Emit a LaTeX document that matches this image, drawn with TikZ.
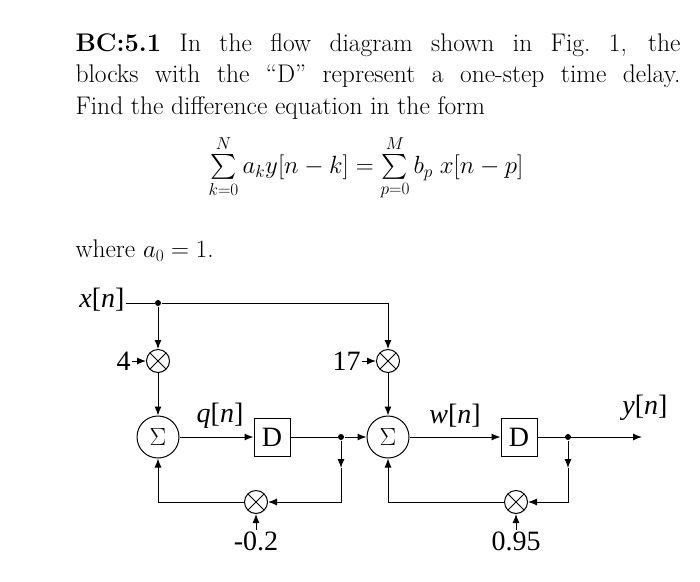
\documentclass[tikz,border=0pt]{standalone}
\usepackage{amsmath}
\usepackage{fontspec}
\usepackage{tikz}
\usetikzlibrary{positioning, calc, arrows.meta}
\newfontfamily\diafont{Liberation Serif}
\newcommand{\sig}[1]{\textit{#1}[\textit{n}]}

\begin{document}
\begin{tikzpicture}[x=1pt, y=-1pt, >={Latex[length=9pt,width=7pt]}, line width=1pt,
	sumnode/.style={circle, draw, minimum size=42pt, inner sep=0pt, font=\fontsize{30}{30}\selectfont},
	mulnode/.style={circle, draw, minimum size=23pt, inner sep=0pt, path picture={
		\draw ($(path picture bounding box.north west)!0.15!(path picture bounding box.south east)$) -- ($(path picture bounding box.south east)!0.15!(path picture bounding box.north west)$);
		\draw ($(path picture bounding box.north east)!0.15!(path picture bounding box.south west)$) -- ($(path picture bounding box.south west)!0.15!(path picture bounding box.north east)$);}},
	delaybox/.style={draw, minimum width=36pt, minimum height=38pt, inner sep=0pt, font=\diafont\fontsize{28}{28}\selectfont},
	lbl/.style={font=\diafont\fontsize{28}{28}\selectfont, inner sep=1pt},
	txt/.style={anchor=west, font=\fontsize{25.5}{33}\selectfont, inner sep=0pt},
	dot/.style={circle, fill, inner sep=0pt, minimum size=6pt}]
	\useasboundingbox (0,0) rectangle (700,581);
	% problem text
	\node[txt] (line1) at (75,45) {\makebox[605pt][s]{\textbf{BC:5.1} In the flow diagram shown in Fig.~1, the}};
	\node[txt] (line2) at (75,76) {\makebox[605pt][s]{blocks with the ``D'' represent a one-step time delay.}};
	\node[txt] (line3) at (75,108) {Find the difference equation in the form};
	\node[font=\fontsize{27}{33}\selectfont] (eq) at (366,168) {$\sum\limits_{k=0}^{N} a_k y[n-k] = \sum\limits_{p=0}^{M} b_p\; x[n-p]$};
	\node[txt] (line4) at (75,251) {where $a_0 = 1$.};
	% flow diagram
	\node[lbl] (xin) at (102,300) {\sig{x}};
	\node[dot] (jx) at (158,303) {};
	\node[mulnode] (m1) at (158,361) {};
	\node[lbl, left=14pt of m1] (g1) {4};
	\node[sumnode] (s1) at (158,437) {$\Sigma$};
	\node[delaybox] (d1) at (272,437) {D};
	\node[dot] (j1) at (341,437) {};
	\node[sumnode] (s2) at (388,437) {$\Sigma$};
	\node[mulnode] (m2) at (388,361) {};
	\node[lbl, left=14pt of m2] (g2) {17};
	\node[delaybox] (d2) at (519,437) {D};
	\node[dot] (j2) at (568,437) {};
	\coordinate (yout) at (642,437);
	\node[lbl] (ylab) at (645,408) {\sig{y}};
	\node[lbl] (qlab) at (220,416) {\sig{q}};
	\node[lbl] (wlab) at (455,416) {\sig{w}};
	\node[mulnode] (f1) at (256,502) {};
	\node[mulnode] (f2) at (516,502) {};
	\node[lbl, below=16pt of f1] (c1) {-0.2};
	\node[lbl, below=16pt of f2] (c2) {0.95};
	\coordinate (t1) at (341,468);
	\coordinate (t2) at (568,468);

	\draw (xin.east |- jx) -- (jx) -- (jx -| m2) coordinate (top2);
	\draw[->] (top2) -- (m2);
	\draw[->] (jx) -- (m1);
	\draw[->] (g1) -- (m1);
	\draw[->] (g2) -- (m2);
	\draw[->] (m1) -- (s1);
	\draw[->] (m2) -- (s2);
	\draw[->] (s1) -- (d1);
	\draw (d1) -- (j1);
	\draw[->] (j1) -- (s2);
	\draw[->] (s2) -- (d2);
	\draw[->] (d2) -- (yout);
	\draw[->] (j1) -- (t1);
	\draw[->] (t1) |- (f1);
	\draw[->] (f1) -| (s1);
	\draw[->] (j2) -- (t2);
	\draw[->] (t2) |- (f2);
	\draw[->] (f2) -| (s2);
	\draw[->] (c1) -- (f1);
	\draw[->] (c2) -- (f2);
\end{tikzpicture}
\end{document}
